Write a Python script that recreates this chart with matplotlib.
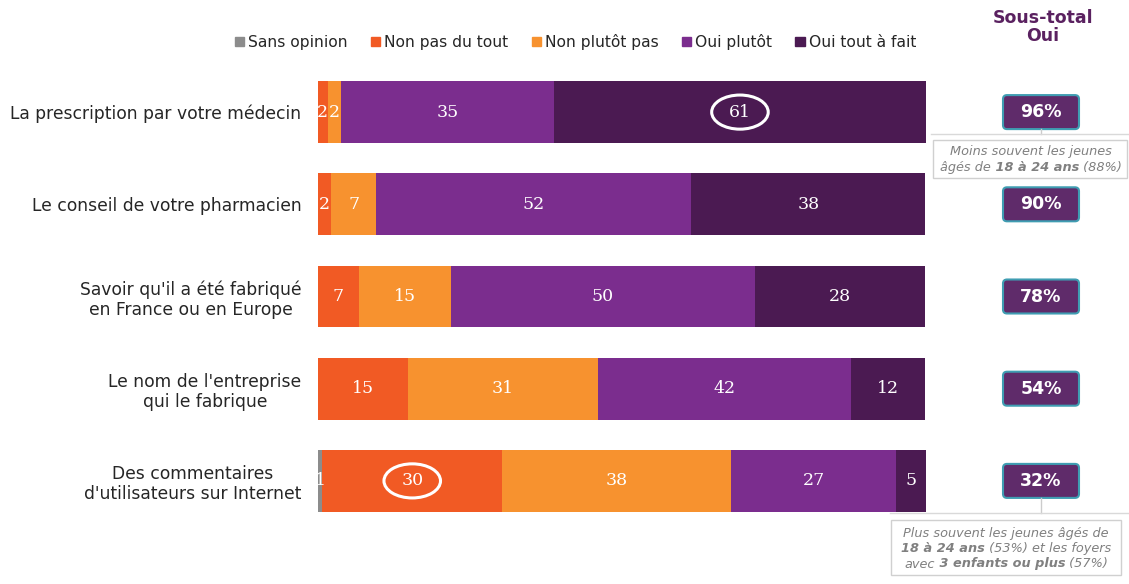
import matplotlib
matplotlib.use('Agg')
import matplotlib.pyplot as plt
from matplotlib.patches import Ellipse, FancyBboxPatch, Rectangle, Patch
import numpy as np

# data
categories = [
    "La prescription par votre médecin",
    "Le conseil de votre pharmacien",
    "Savoir qu'il a été fabriqué\nen France ou en Europe",
    "Le nom de l'entreprise\nqui le fabrique",
    "Des commentaires\nd'utilisateurs sur Internet",
]
series = ["Sans opinion", "Non pas du tout", "Non plutôt pas", "Oui plutôt", "Oui tout à fait"]
sans_opinion = [0, 0, 0, 0, 0.7]
non_pas_du_tout = [1.6, 2.2, 6.7, 14.8, 29.6]
non_plutot_pas = [2.2, 7.4, 15.1, 31.2, 37.7]
oui_plutot = [35, 51.8, 50, 41.6, 27]
oui_tout_a_fait = [61.2, 38.5, 28.1, 12.3, 5]
colors = ["#8c8c8c", "#f15a24", "#f7922f", "#7b2d8e", "#4b1a52"]
circled = [(0, 4), (4, 1)]  # (row, series index)
notes = {
    0: [[("Moins souvent les jeunes", False)],
        [("âgés de", False), (" 18 à 24 ans", True), (" (88%)", False)]],
    4: [[("Plus souvent les jeunes âgés de", False)],
        [("18 à 24 ans", True), (" (53%) et les foyers", False)],
        [("avec", False), (" 3 enfants ou plus", True), (" (57%)", False)]],
}

values = [sans_opinion, non_pas_du_tout, non_plutot_pas, oui_plutot, oui_tout_a_fait]
subtotal = [round(a + b) for a, b in zip(oui_plutot, oui_tout_a_fait)]

W, H = 1129, 584
fig = plt.figure(figsize=(W / 100, H / 100), dpi=100)
ax = fig.add_axes([318 / W, 1 - 527 / H, 608 / W, 461 / H])
ypos = np.arange(len(categories))
left = np.zeros(len(categories))
for j, vals in enumerate(values):
    vals = np.array(vals, dtype=float)
    ax.barh(ypos, vals, left=left, height=0.67, color=colors[j], linewidth=0, label=series[j])
    for i, v in enumerate(vals):
        if v > 0:
            ax.text(left[i] + v / 2, i, f"{round(v)}", ha='center', va='center',
                    color='white', fontsize=12.5, family='DejaVu Serif')
    left += vals

for row, j in circled:
    start = sum(values[k][row] for k in range(j))
    ax.add_patch(Ellipse((start + values[j][row] / 2, row), 9.3, 0.37,
                         fill=False, ec='white', lw=2.2))

ax.set_xlim(0, 100)
ax.set_ylim(len(categories) - 0.5, -0.5)
ax.set_yticks(ypos)
ax.set_yticklabels(categories, fontsize=12.3, color='#262626')
for t in ax.get_yticklabels():
    t.set_multialignment('center')
    t.set_linespacing(1.15)
ax.tick_params(axis='y', length=0, pad=12)
ax.set_xticks([])
for s in ax.spines.values():
    s.set_visible(False)

handles = [Patch(color=c) for c in colors]
fig.legend(handles, series, loc='center right', bbox_to_anchor=(930 / W, 1 - 42 / H),
           ncol=5, frameon=False, fontsize=11.2, handlelength=0.6, handleheight=0.6,
           handletextpad=0.25, columnspacing=1.5, labelcolor='#262626')

# overlay in pixel coordinates
ov = fig.add_axes([0, 0, 1, 1])
ov.set_xlim(0, W)
ov.set_ylim(H, 0)
ov.axis('off')

ov.text(1043, 27, "Sous-total\nOui", ha='center', va='center', fontsize=12.5,
        fontweight='bold', color='#5a2160', linespacing=1.0)

def row_y(i):
    return H - ax.transData.transform((0, i))[1]

bx = 1041
for i, st in enumerate(subtotal):
    y = row_y(i)
    ov.add_patch(FancyBboxPatch((bx - 38, y - 17), 76, 34,
                                boxstyle='round,pad=0,rounding_size=4',
                                fc='#5f2b6a', ec='#3f9db2', lw=1.5))
    ov.text(bx, y, f"{st}%", ha='center', va='center', color='white',
            fontsize=12.5, fontweight='bold')

gray = '#808080'
first_parts = []

def rich_line(xc, y, parts):
    texts = []
    for k, (s, bold) in enumerate(parts):
        kw = dict(fontsize=9.3, style='italic', color=gray,
                  fontweight='bold' if bold else 'normal')
        if k == 0:
            t = ov.text(xc, y, s, ha='left', va='center', **kw)
        else:
            t = ov.annotate(s, xy=(1, 0), xycoords=texts[-1], ha='left', va='bottom', **kw)
        texts.append(t)
    first_parts.append((texts, xc))

# note boxes
y0 = row_y(0)
ov.plot([bx, bx], [y0 + 17, 134], color='#cccccc', lw=1)
ov.plot([931, W], [134, 134], color='#d9d9d9', lw=1)
ov.add_patch(Rectangle((933, 140), 194, 38, fc='white', ec='#d0d0d0', lw=1))
for k, line in enumerate(notes[0]):
    rich_line(1031, 152 + 15.5 * k, line)

y4 = row_y(4)
ov.plot([bx, bx], [y4 + 17, 513], color='#cccccc', lw=1)
ov.plot([890, W], [513, 513], color='#d9d9d9', lw=1)
ov.add_patch(Rectangle((891, 520), 230, 55, fc='white', ec='#d0d0d0', lw=1))
for k, line in enumerate(notes[4]):
    rich_line(1006, 533 + 15.5 * k, line)

fig.canvas.draw()
r = fig.canvas.get_renderer()
for texts, xc in first_parts:
    x0 = texts[0].get_window_extent(r).x0
    x1 = texts[-1].get_window_extent(r).x1
    wdt = x1 - x0
    texts[0].set_x(xc - wdt / 2)

fig.savefig('out.png', dpi=100)
